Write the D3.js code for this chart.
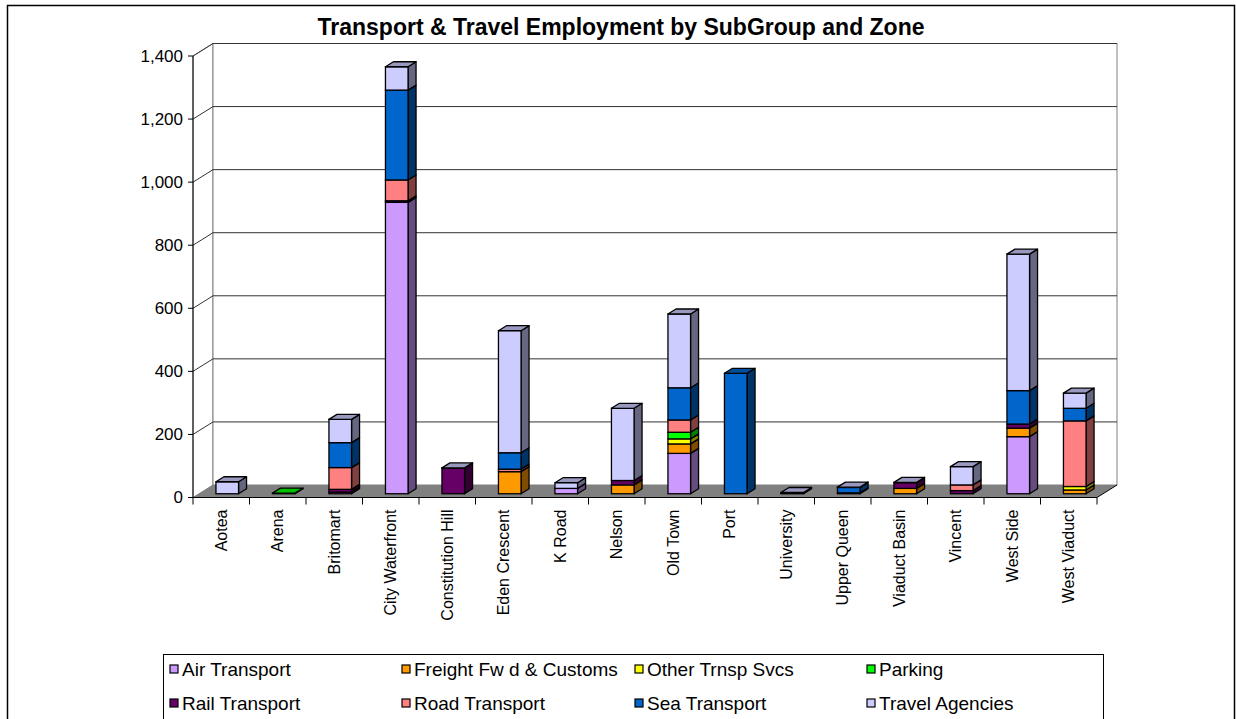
<!DOCTYPE html>
<html><head><meta charset="utf-8">
<script src="https://cdn.jsdelivr.net/npm/d3@7"></script>
<style>
body{margin:0;background:#fff;}
text{font-family:"Liberation Sans",Arial,sans-serif;fill:#000;}
</style>
</head><body>
<svg id="chart" width="1236" height="719"></svg>
<script>
// ---------- DATA ----------
const title = "Transport & Travel Employment by SubGroup and Zone";
const categories = ["Aotea","Arena","Britomart","City Waterfront","Constitution Hill","Eden Crescent","K Road","Nelson","Old Town","Port","University","Upper Queen","Viaduct Basin","Vincent","West Side","West Viaduct"];
const seriesNames = ["Air Transport","Freight Fw d & Customs","Other Trnsp Svcs","Parking","Rail Transport","Road Transport","Sea Transport","Travel Agencies"];
const seriesColors = ["#CC99FF","#FF9900","#FFFF00","#00FF00","#660066","#FF8080","#0066CC","#CCCCFF"];
const airTransport   = [0, 0,  5, 924,  0,   0, 17,   0, 128,   0, 0,  0,  0,  0, 181,   0];
const freightFwd     = [0, 0,  0,   0,  0,  70,  0,  28,  30,   0, 0,  0, 17,  0,  27,  12];
const otherTrnsp     = [0, 0,  0,   0,  0,   0,  0,   0,  16,   0, 0,  0,  0,  0,   0,  11];
const parking        = [0, 2,  0,   0,  0,   0,  0,   0,  21,   0, 0,  0,  0,  0,   0,   0];
const railTransport  = [0, 0,  9,   5, 81,   0,  0,  14,   0,   0, 3,  3, 18, 10,  13,   0];
const roadTransport  = [0, 0, 69,  66,  0,   8,  0,   0,  39,   0, 0,  0,  0, 18,   0, 208];
const seaTransport   = [0, 0, 79, 285,  0,  52,  0,   0, 102, 382, 0, 17,  0,  0, 106,  40];
const travelAgencies = [38, 0, 74, 74,  1, 387, 18, 229, 234,   0, 1,  1,  1, 58, 433,  48];
const seriesValues = [airTransport, freightFwd, otherTrnsp, parking, railTransport, roadTransport, seaTransport, travelAgencies];
const yTicks = [0,200,400,600,800,1000,1200,1400];

// ---------- LAYOUT ----------
const svg = d3.select("#chart");
const X0 = 193, X1 = 1097, Y0 = 497.5, YT = 56;
const DEPTH = 20, K = 0.625;           // floor depth (px) and oblique slope
const BAR_OFF = 6, BAR_DEPTH = 8;

const x = d3.scaleBand().domain(categories).range([X0, X1]);
const y = d3.scaleLinear().domain([0, 1400]).range([Y0, YT]);
const fmt = d3.format(",");

// outer frame
svg.append("rect").attr("x",7.5).attr("y",5.5).attr("width",1227).attr("height",730)
  .attr("fill","#fff").attr("stroke","#000").attr("stroke-width",1.5);

// title
svg.append("text").attr("x",621).attr("y",35).attr("text-anchor","middle")
  .attr("font-weight","bold").attr("font-size",23).text(title);

const g = svg.append("g");
const ddx = DEPTH, ddy = -DEPTH*K;
// side wall
g.append("path").attr("d",`M${X0},${Y0}L${X0},${YT}L${X0+ddx},${YT+ddy}L${X0+ddx},${Y0+ddy}Z`)
  .attr("fill","#fff").attr("stroke","#808080");
// back wall
g.append("rect").attr("x",X0+ddx).attr("y",YT+ddy).attr("width",X1-X0).attr("height",Y0-YT)
  .attr("fill","#fff").attr("stroke","#808080");
// floor
g.append("path").attr("d",`M${X0},${Y0}L${X1},${Y0}L${X1+ddx},${Y0+ddy}L${X0+ddx},${Y0+ddy}Z`)
  .attr("fill","#808080").attr("stroke","none");
g.append("line").attr("x1",X1).attr("y1",Y0).attr("x2",X1+ddx).attr("y2",Y0+ddy).attr("stroke","#000");

// gridlines
g.selectAll(".grid").data(yTicks.filter(d=>d>0)).join("path")
  .attr("d",d=>`M${X0},${y(d)}L${X0+ddx},${y(d)+ddy}L${X1+ddx},${y(d)+ddy}`)
  .attr("fill","none").attr("stroke","#333").attr("stroke-width",1);

// y axis
g.append("line").attr("x1",X0).attr("y1",Y0).attr("x2",X0).attr("y2",YT).attr("stroke","#000");
g.selectAll(".ytick").data(yTicks).join("line")
  .attr("x1",X0-5).attr("x2",X0).attr("y1",d=>y(d)).attr("y2",d=>y(d)).attr("stroke","#000");
g.selectAll(".ylab").data(yTicks).join("text")
  .attr("x",X0-10).attr("y",d=>y(d)).attr("dy","0.35em").attr("text-anchor","end")
  .attr("font-size",17).text(d=>fmt(d));

// x axis
g.append("line").attr("x1",X0).attr("y1",Y0).attr("x2",X1).attr("y2",Y0).attr("stroke","#000");
const bounds = categories.map(c=>x(c)).concat([X1]);
g.selectAll(".xtick").data(bounds).join("line")
  .attr("x1",d=>d).attr("x2",d=>d).attr("y1",Y0).attr("y2",Y0+7).attr("stroke","#000");
g.selectAll(".xlab").data(categories).join("text")
  .attr("transform",c=>`translate(${x(c)+x.bandwidth()/2},${Y0+12}) rotate(-90)`)
  .attr("text-anchor","end").attr("dy","0.35em").attr("font-size",16).text(c=>c);

// bars
const bw = x.bandwidth()*0.4;
const bdx = BAR_DEPTH, bdy = -BAR_DEPTH*K;
const shade = (col,f)=>{const c=d3.rgb(col);return d3.rgb(c.r*f,c.g*f,c.b*f).toString();};
categories.forEach((c,i)=>{
  const fx = x(c) + (x.bandwidth()-bw)/2 + BAR_OFF;
  const off = -BAR_OFF*K;
  let base = 0;
  const segs = [];
  seriesValues.forEach((vals,s)=>{
    const v = vals[i];
    if (v>0){ segs.push({s, b:base, t:base+v}); base += v; }
  });
  const bg = g.append("g");
  segs.forEach(seg=>{
    const yb = y(seg.b)+off, yt = y(seg.t)+off;
    const col = seriesColors[seg.s];
    bg.append("path").attr("d",`M${fx+bw},${yt}L${fx+bw+bdx},${yt+bdy}L${fx+bw+bdx},${yb+bdy}L${fx+bw},${yb}Z`)
      .attr("fill",shade(col,0.5)).attr("stroke","#000").attr("stroke-width",1.3).attr("stroke-linejoin","round");
    bg.append("rect").attr("x",fx).attr("y",yt).attr("width",bw).attr("height",Math.max(0,yb-yt))
      .attr("fill",col).attr("stroke","#000").attr("stroke-width",1.3);
  });
  if (segs.length){
    const top = segs[segs.length-1];
    const yt = y(top.t)+off;
    bg.append("path").attr("d",`M${fx},${yt}L${fx+bdx},${yt+bdy}L${fx+bw+bdx},${yt+bdy}L${fx+bw},${yt}Z`)
      .attr("fill",shade(seriesColors[top.s],0.75)).attr("stroke","#000").attr("stroke-width",1.3).attr("stroke-linejoin","round");
  }
});

// legend
const lg = svg.append("g");
lg.append("rect").attr("x",163.5).attr("y",654.5).attr("width",940).attr("height",80)
  .attr("fill","#fff").attr("stroke","#000");
const colX = [170, 402, 635, 867], rowY = [669, 703];
seriesNames.forEach((n,i)=>{
  const cx = colX[i%4], cy = rowY[Math.floor(i/4)];
  lg.append("rect").attr("x",cx).attr("y",cy-4).attr("width",8).attr("height",8)
    .attr("fill",seriesColors[i]).attr("stroke","#000").attr("stroke-width",1.2);
  lg.append("text").attr("x",cx+12).attr("y",cy).attr("dy","0.35em").attr("font-size",19).text(n);
});
</script>
</body></html>
